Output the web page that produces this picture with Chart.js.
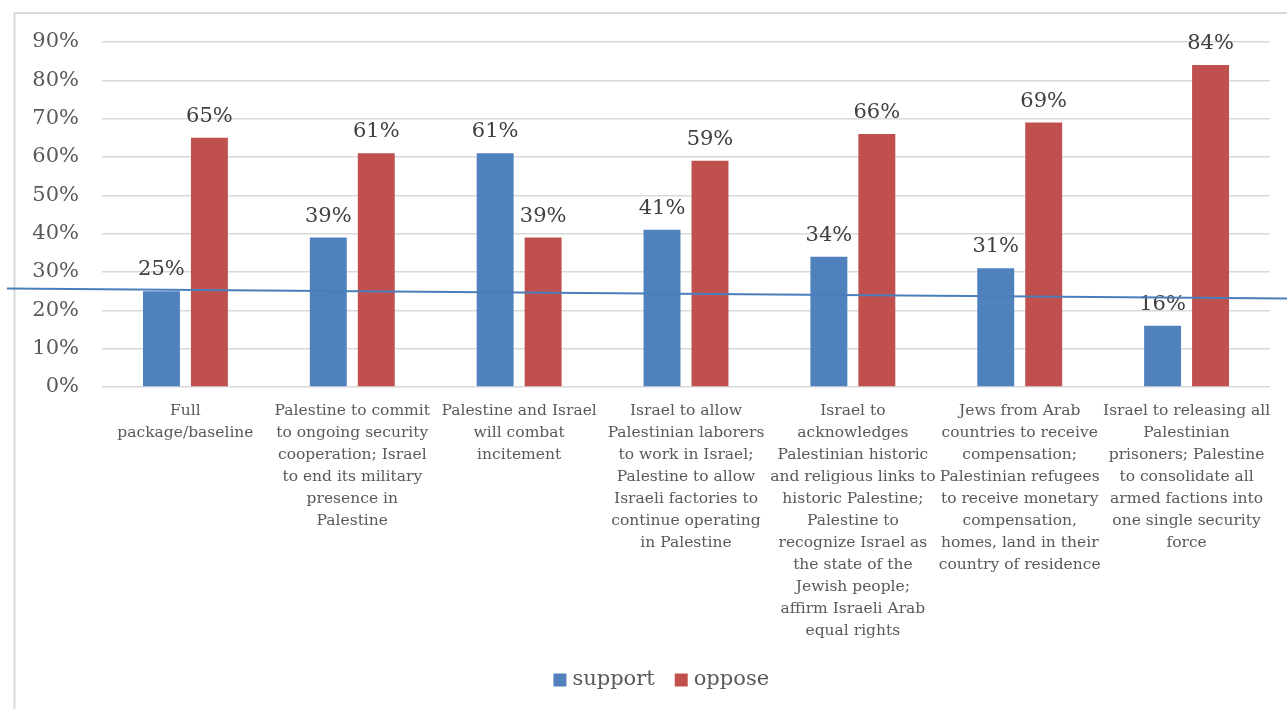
<!DOCTYPE html>
<html>
<head>
<meta charset="utf-8">
<script src="https://cdn.jsdelivr.net/npm/chart.js@4"></script>
<style>
  html, body { margin: 0; padding: 0; background: #ffffff; }
  #wrap { width: 1287px; height: 709px; position: relative; }
</style>
</head>
<body>
<div id="wrap"><canvas id="chart" width="1287" height="709"></canvas></div>
<script>
// Categories (wrapped into lines for the axis)
const categories = [
  ["Full", "package/baseline"],
  ["Palestine to commit", "to ongoing security", "cooperation; Israel", "to end its military", "presence in", "Palestine"],
  ["Palestine and Israel", "will combat", "incitement"],
  ["Israel to allow", "Palestinian laborers", "to work in Israel;", "Palestine to allow", "Israeli factories to", "continue operating", "in Palestine"],
  ["Israel to", "acknowledges", "Palestinian historic", "and religious links to", "historic Palestine;", "Palestine to", "recognize Israel as", "the state of the", "Jewish people;", "affirm Israeli Arab", "equal rights"],
  ["Jews from Arab", "countries to receive", "compensation;", "Palestinian refugees", "to receive monetary", "compensation,", "homes, land in their", "country of residence"],
  ["Israel to releasing all", "Palestinian", "prisoners; Palestine", "to consolidate all", "armed factions into", "one single security", "force"]
];

// Series values (percent)
const support = [25, 39, 61, 41, 34, 31, 16];
const oppose  = [65, 61, 39, 59, 66, 69, 84];

// Reference line across the chart: value at left edge, value at right edge (percent)
const referenceLine = [25.7, 23.1];

// Y-axis ticks
const yTicks = [0, 10, 20, 30, 40, 50, 60, 70, 80, 90];

const SERIF = '"DejaVu Serif", "Liberation Serif", serif';
const FRAME = { left: 14.5, top: 13, rightOverhang: 21 };

// Light frame around the chart
const framePlugin = {
  id: 'frame',
  beforeDraw(chart) {
    const ctx = chart.ctx;
    ctx.save();
    ctx.fillStyle = '#ffffff';
    ctx.fillRect(0, 0, chart.width, chart.height);
    ctx.strokeStyle = '#d9d9d9';
    ctx.lineWidth = 2;
    ctx.beginPath();
    ctx.moveTo(FRAME.left, chart.height + 5);
    ctx.lineTo(FRAME.left, FRAME.top);
    ctx.lineTo(chart.width + 5, FRAME.top);
    ctx.stroke();
    ctx.restore();
  }
};

// Value labels above each bar
const valueLabelPlugin = {
  id: 'valueLabels',
  afterDatasetsDraw(chart) {
    const ctx = chart.ctx;
    ctx.save();
    ctx.font = '21px ' + SERIF;
    ctx.fillStyle = '#404040';
    ctx.textAlign = 'center';
    ctx.textBaseline = 'alphabetic';
    chart.data.datasets.forEach((ds, i) => {
      const meta = chart.getDatasetMeta(i);
      meta.data.forEach((bar, j) => {
        ctx.fillText(Math.round(ds.data[j]) + '%', bar.x, bar.y - 16);
      });
    });
    ctx.restore();
  }
};

// Thin blue reference line drawn over the bars, spanning the full width
const refLinePlugin = {
  id: 'refLine',
  afterDatasetsDraw(chart) {
    const y = chart.scales.y;
    const ctx = chart.ctx;
    ctx.save();
    ctx.strokeStyle = '#4a7ebb';
    ctx.lineWidth = 2;
    ctx.beginPath();
    ctx.moveTo(7, y.getPixelForValue(referenceLine[0]));
    ctx.lineTo(chart.width, y.getPixelForValue(referenceLine[1]));
    ctx.stroke();
    ctx.restore();
  }
};

// Legend centred in the frame, square swatches close to the text
const legendPlugin = {
  id: 'frameLegend',
  afterDraw(chart) {
    const ctx = chart.ctx;
    const box = 13, gap = 6, itemGap = 20, cy = 680;
    ctx.save();
    ctx.font = '21px ' + SERIF;
    ctx.textBaseline = 'middle';
    ctx.textAlign = 'left';
    const items = chart.data.datasets.map(ds => ({
      text: ds.label, color: ds.backgroundColor, w: ctx.measureText(ds.label).width
    }));
    const total = items.reduce((s, it) => s + box + gap + it.w, 0) + itemGap * (items.length - 1);
    const centre = (FRAME.left + chart.width + FRAME.rightOverhang) / 2;
    let x = centre - total / 2;
    items.forEach(it => {
      ctx.fillStyle = it.color;
      ctx.fillRect(x, cy - box / 2, box, box);
      x += box + gap;
      ctx.fillStyle = '#595959';
      ctx.fillText(it.text, x, cy);
      x += it.w + itemGap;
    });
    ctx.restore();
  }
};

new Chart(document.getElementById('chart'), {
  type: 'bar',
  data: {
    labels: categories,
    datasets: [
      { label: 'support', data: support, backgroundColor: '#4f81bd', borderWidth: 0,
        categoryPercentage: 0.575, barPercentage: 0.77 },
      { label: 'oppose', data: oppose, backgroundColor: '#c0504d', borderWidth: 0,
        categoryPercentage: 0.575, barPercentage: 0.77 }
    ]
  },
  options: {
    responsive: false,
    animation: false,
    devicePixelRatio: 1,
    layout: { padding: { left: 0, right: 17, top: 42, bottom: 49 } },
    plugins: {
      tooltip: { enabled: false },
      legend: { display: false }
    },
    scales: {
      x: {
        grid: { display: false, drawTicks: false },
        border: { display: false },
        ticks: {
          autoSkip: false,
          maxRotation: 0,
          padding: 13,
          color: '#595959',
          font: { family: SERIF, size: 15.5, lineHeight: 1.42 }
        },
        afterFit(scale) { scale.height = 273; }
      },
      y: {
        min: yTicks[0],
        max: yTicks[yTicks.length - 1],
        afterBuildTicks(scale) { scale.ticks = yTicks.map(v => ({ value: v })); },
        grid: { color: '#d9d9d9', lineWidth: 1.5, drawTicks: false },
        border: { display: false },
        ticks: {
          padding: 23,
          color: '#595959',
          font: { family: SERIF, size: 21 },
          callback: v => v + '%'
        },
        afterFit(scale) { scale.width = 102; }
      }
    }
  },
  plugins: [framePlugin, valueLabelPlugin, refLinePlugin, legendPlugin]
});
</script>
</body>
</html>
